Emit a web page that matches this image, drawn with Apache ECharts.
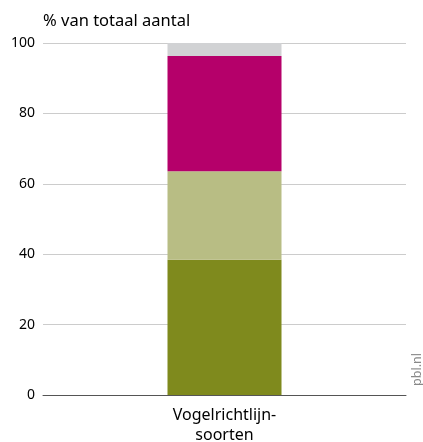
<!DOCTYPE html>
<html>
<head>
<meta charset="utf-8">
<script src="https://cdn.jsdelivr.net/npm/echarts@6/dist/echarts.min.js"></script>
<style>
  html, body { margin: 0; padding: 0; background: #fff; }
  #chart { width: 423px; height: 442px; }
</style>
</head>
<body>
<div id="chart"></div>
<script>
// data
var categories = ['Vogelrichtlijn-\nsoorten'];
var seriesNames = ['deel1', 'deel2', 'deel3', 'deel4'];
var seriesValues = [[38.4], [25.2], [32.7], [3.7]];
var seriesColors = ['#7f8a1d', '#b8bd84', '#b5006a', '#d1d2d4'];

var myChart = echarts.init(document.getElementById('chart'));

var series = [];
for (var i = 0; i < seriesNames.length; i++) {
    series.push({
        name: seriesNames[i],
        type: 'bar',
        stack: 'totaal',
        barWidth: 114,
        itemStyle: { color: seriesColors[i] },
        data: seriesValues[i]
    });
}

var option = {
    animation: false,
    textStyle: { fontFamily: 'Noto Sans' },
    title: {
        text: '% van totaal aantal',
        left: 38,
        top: 8,
        textStyle: { fontSize: 16.5, fontWeight: 'normal', color: '#000', fontFamily: 'Noto Sans' }
    },
    grid: { left: 43, right: 17, top: 43, bottom: 47, outerBoundsMode: 'none', containLabel: false },
    xAxis: {
        type: 'category',
        data: categories,
        axisTick: { show: false },
        axisLine: { lineStyle: { color: '#555', width: 1 } },
        axisLabel: { color: '#000', fontSize: 16, lineHeight: 20, margin: 10 }
    },
    yAxis: {
        type: 'value',
        min: 0,
        max: 100,
        interval: 20,
        axisLine: { show: false },
        axisTick: { show: false },
        splitLine: { lineStyle: { color: '#cccccc', width: 1 } },
        axisLabel: { color: '#000', fontSize: 14, margin: 8 }
    },
    graphic: [{
        type: 'text',
        left: 411,
        top: 353,
        rotation: Math.PI / 2,
        style: { text: 'pbl.nl', fill: '#888', fontSize: 12.5, fontFamily: 'Noto Sans' }
    }],
    series: series
};

myChart.setOption(option);
</script>
</body>
</html>
